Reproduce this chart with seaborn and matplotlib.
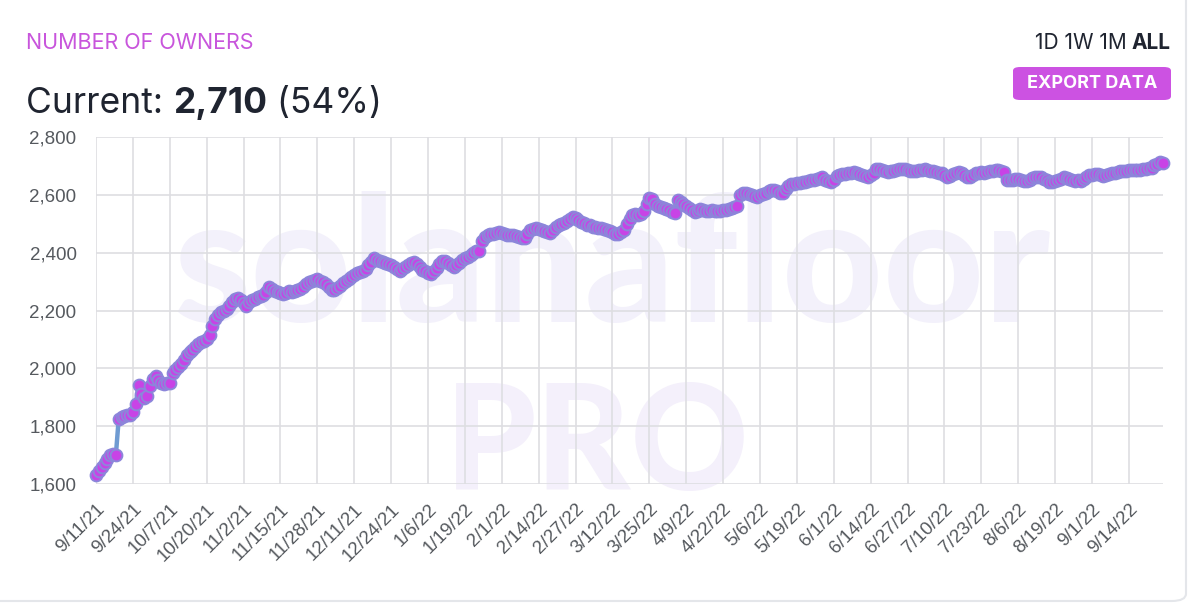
import numpy as np
import pandas as pd
import matplotlib
matplotlib.use("Agg")
import matplotlib.pyplot as plt
import seaborn as sns
from matplotlib.patches import FancyBboxPatch

# daily number of owners (13 points between labels)
owners = [
    1630, 1645, 1660, 1672, 1685, 1700, 1703, 1700, 1825, 1832, 1835, 1838, 1840,
    1848, 1875, 1942, 1912, 1897, 1905, 1940, 1962, 1975, 1960, 1950, 1946, 1948,
    1950, 1985, 1995, 2005, 2015, 2030, 2045, 2055, 2065, 2075, 2083, 2090, 2093,
    2100, 2115, 2145, 2170, 2185, 2195, 2200, 2205, 2215, 2230, 2240, 2243, 2235,
    2225, 2215, 2228, 2235, 2240, 2245, 2250, 2255, 2265, 2282, 2275, 2268, 2265,
    2262, 2258, 2262, 2268, 2265, 2268, 2270, 2275, 2282, 2290, 2298, 2303, 2305,
    2308, 2303, 2298, 2290, 2280, 2270, 2272, 2278, 2285, 2295, 2303, 2310, 2315,
    2322, 2328, 2332, 2338, 2345, 2358, 2368, 2380, 2375, 2370, 2366, 2364, 2360,
    2356, 2352, 2345, 2338, 2345, 2352, 2358, 2363, 2367, 2360, 2352, 2340, 2335,
    2330, 2326, 2335, 2348, 2362, 2370, 2372, 2365, 2358, 2352, 2356, 2365, 2375,
    2380, 2385, 2392, 2400, 2405, 2407, 2440, 2455, 2460, 2463, 2465, 2468, 2470,
    2468, 2465, 2462, 2460, 2460, 2458, 2455, 2452, 2450, 2465, 2478, 2482, 2485,
    2482, 2478, 2474, 2470, 2467, 2478, 2490, 2495, 2498, 2502, 2510, 2518, 2525,
    2520, 2513, 2506, 2502, 2497, 2494, 2490, 2488, 2486, 2484, 2481, 2478, 2475,
    2472, 2465, 2463, 2470, 2478, 2500, 2515, 2530, 2535, 2530, 2535, 2545, 2570,
    2590, 2585, 2568, 2562, 2558, 2555, 2550, 2548, 2542, 2538, 2582, 2575, 2568,
    2562, 2555, 2548, 2542, 2545, 2550, 2548, 2545, 2544, 2546, 2545, 2543, 2545,
    2546, 2548, 2550, 2553, 2558, 2562, 2598, 2605, 2608, 2603, 2600, 2596, 2594,
    2598, 2603, 2608, 2612, 2618, 2615, 2612, 2606, 2605, 2620, 2630, 2636, 2638,
    2640, 2642, 2644, 2646, 2648, 2650, 2652, 2655, 2658, 2660, 2652, 2648, 2646,
    2650, 2665, 2670, 2672, 2673, 2675, 2677, 2678, 2676, 2673, 2670, 2665, 2662,
    2668, 2676, 2688, 2690, 2687, 2683, 2680, 2682, 2684, 2686, 2688, 2690, 2688,
    2685, 2683, 2682, 2684, 2685, 2686, 2688, 2687, 2684, 2682, 2680, 2676, 2674,
    2667, 2662, 2665, 2672, 2676, 2678, 2674, 2668, 2662, 2660, 2668, 2674, 2676,
    2678, 2676, 2679, 2682, 2684, 2686, 2685, 2683, 2680, 2652, 2650, 2652, 2655,
    2654, 2650, 2648, 2647, 2652, 2658, 2662, 2663, 2660, 2655, 2650, 2646, 2644,
    2648, 2652, 2656, 2660, 2658, 2655, 2652, 2648, 2650, 2647, 2655, 2662, 2668,
    2670, 2672, 2671, 2668, 2666, 2668, 2672, 2675, 2677, 2679, 2681, 2683, 2684,
    2685, 2686, 2685, 2686, 2687, 2688, 2690, 2692, 2694, 2702, 2708, 2712, 2710,
]

date_labels = [
    "9/11/21", "9/24/21", "10/7/21", "10/20/21", "11/2/21", "11/15/21", "11/28/21",
    "12/11/21", "12/24/21", "1/6/22", "1/19/22", "2/1/22", "2/14/22", "2/27/22",
    "3/12/22", "3/25/22", "4/9/22", "4/22/22", "5/6/22", "5/19/22", "6/1/22",
    "6/14/22", "6/27/22", "7/10/22", "7/23/22", "8/6/22", "8/19/22", "9/1/22",
    "9/14/22",
]
label_step = 13
y_ticks = [1600, 1800, 2000, 2200, 2400, 2600, 2800]

df = pd.DataFrame({"day": np.arange(len(owners)), "owners": owners})

sns.set_style("white")
plt.rcParams["font.family"] = ["Liberation Sans", "DejaVu Sans"]

W, H = 1200, 608
fig = plt.figure(figsize=(W / 100, H / 100), dpi=100)


def fx(x):
    return x / W


def fy(y):
    return 1 - y / H


# card outline
card = FancyBboxPatch((fx(-40), fy(601)), fx(1226), fy(-40) - fy(601),
                      boxstyle="round,pad=0,rounding_size=0.012",
                      transform=fig.transFigure, facecolor="white",
                      edgecolor="#e4e6ea", linewidth=1.5, zorder=-5)
fig.patches.append(card)

ax = fig.add_axes([fx(96), fy(484), fx(1163 - 96), fy(137) - fy(484)])
ax.set_facecolor("none")

# watermark, behind the grid
ax.text(fx(612), fy(322), "solanafloor", transform=fig.transFigure,
        ha="center", va="baseline", fontsize=126, fontweight="black",
        family="Lato", color="#f3f1fb", zorder=0)
ax.text(fx(597), fy(490), "PRO", transform=fig.transFigure,
        ha="center", va="baseline", fontsize=105, fontweight="black",
        family="Lato", color="#f4f0fb", zorder=0)

line_color = "#6f9bd2"
sns.lineplot(data=df, x="day", y="owners", ax=ax, color=line_color, linewidth=3.2,
             marker="o", markersize=8.5, markerfacecolor="#c843e6",
             markeredgecolor="#8c86da", markeredgewidth=1.4, clip_on=False, zorder=5)

ax.set_xlim(0, len(owners) - 1)
ax.set_ylim(1600, 2800)
ax.set_xticks(np.arange(0, len(date_labels) * label_step, label_step))
ax.set_xticklabels(date_labels, rotation=45, ha="right", rotation_mode="anchor")
ax.set_yticks(y_ticks)
ax.set_yticklabels([f"{v:,}" for v in y_ticks])
ax.set_xlabel("")
ax.set_ylabel("")
for s in ax.spines.values():
    s.set_visible(False)
ax.grid(True, color="#dedee2", linewidth=1.2, zorder=0.5)
ax.set_axisbelow(True)
ax.tick_params(axis="both", length=11, width=1.2, color="#dedee2",
               labelsize=13.5, labelcolor="#55595e", pad=3)
ax.tick_params(axis="x", pad=1)

# header
fig.text(fx(26), fy(49), "NUMBER OF OWNERS", fontsize=15.5, color="#c855dc",
         family="Inter", va="baseline")

renderer = fig.canvas.get_renderer()
x0 = fx(26)
parts = [("Current: ", "normal"), ("2,710", "bold"), (" (54%)", "normal")]
for txt, wt in parts:
    t = fig.text(x0, fy(113), txt, fontsize=25.5, color="#1f2430", family="Inter",
                 fontweight=wt, va="baseline")
    bb = t.get_window_extent(renderer)
    x0 = bb.x1 / fig.bbox.width

rx = fx(1171)
t = fig.text(rx, fy(49), "ALL", fontsize=15, fontweight="bold", color="#1f2430",
             family="Inter", ha="right", va="baseline")
bb = t.get_window_extent(renderer)
fig.text(bb.x0 / fig.bbox.width - fx(5), fy(49), "1D 1W 1M", fontsize=15,
         color="#1f2430", family="Inter", ha="right", va="baseline")

btn = FancyBboxPatch((fx(1013), fy(100)), fx(1171 - 1013), fy(67) - fy(100),
                     boxstyle="round,pad=0,rounding_size=0.006",
                     transform=fig.transFigure, facecolor="#cc52e2",
                     edgecolor="none", zorder=3)
fig.patches.append(btn)
fig.text(fx(1092), fy(84), "EXPORT DATA", fontsize=13, fontweight="bold",
         color="white", family="Inter", ha="center", va="center", zorder=4)

fig.savefig("out.png", dpi=100)
